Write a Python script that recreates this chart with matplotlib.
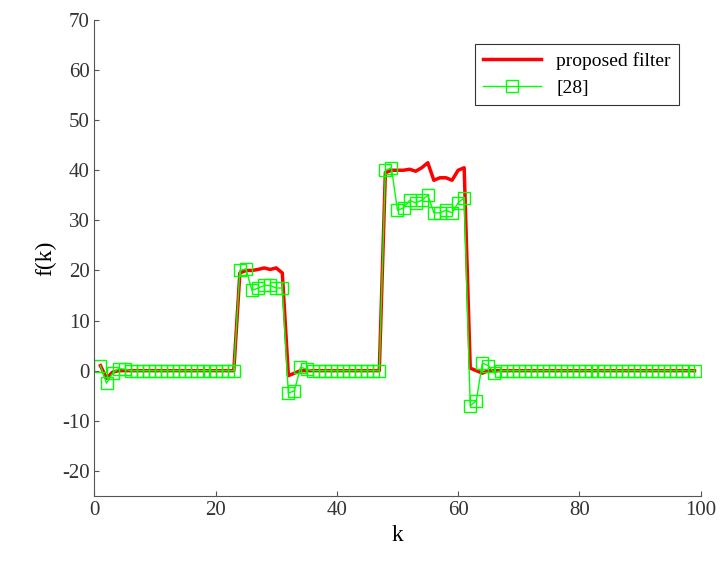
import numpy as np
import matplotlib
matplotlib.use('Agg')
import matplotlib.pyplot as plt

k = np.arange(1, 100)

# proposed filter estimate
red = np.zeros(99)
red[:3] = [1.0, -1.5, -0.3]
red[23:33] = [19.5, 20.0, 20.0, 20.2, 20.5, 20.2, 20.5, 19.5, -1.0, -0.5]
red[47:63] = [39.5, 40.0, 40.0, 40.0, 40.2, 39.8, 40.5, 41.5, 38.0, 38.5, 38.5, 38.0, 40.0, 40.5, 0.5, 0.0]
red[63] = -0.5

# reference [28]
green = np.zeros(99)
green[:5] = [1.0, -2.5, -0.5, 0.4, 0.3]
green[23:35] = [20.0, 20.3, 16.0, 16.5, 17.0, 17.0, 16.5, 16.5, -4.5, -4.0, 0.7, 0.3]
green[47:66] = [40.0, 40.5, 32.0, 32.5, 34.0, 33.5, 34.0, 35.0, 31.5, 31.5, 32.0, 31.5,
                33.5, 34.5, -7.0, -6.0, 1.5, 1.0, -0.5]

plt.rcParams['font.family'] = ['Liberation Serif', 'DejaVu Serif']
plt.rcParams['axes.unicode_minus'] = False
fig, ax = plt.subplots(figsize=(7.26, 5.70), dpi=100)
ax.plot(k, red, color='red', linewidth=2.5, label='proposed filter')
ax.plot(k, green, color='#00ff00', linewidth=1, marker='s', markersize=8,
        markerfacecolor='none', markeredgewidth=1, label='[28]')
ax.set_xlim(0, 100)
ax.set_ylim(-25, 70)
ax.set_yticks(range(-20, 71, 10))
ax.set_xlabel('k', fontsize=17)
ax.set_ylabel('f(k)', fontsize=17)
ax.tick_params(labelsize=15, direction='in', color='#555555', labelcolor='#333333')
for s in ['top', 'right']:
    ax.spines[s].set_visible(False)
for s in ['left', 'bottom']:
    ax.spines[s].set_color('#555555')
leg = ax.legend(loc='upper right', bbox_to_anchor=(0.98, 0.97), fontsize=14,
                fancybox=False, edgecolor='black', handlelength=3)
leg.get_frame().set_linewidth(0.8)
fig.subplots_adjust(left=0.13, right=0.965, top=0.965, bottom=0.13)
fig.savefig('out.png')
